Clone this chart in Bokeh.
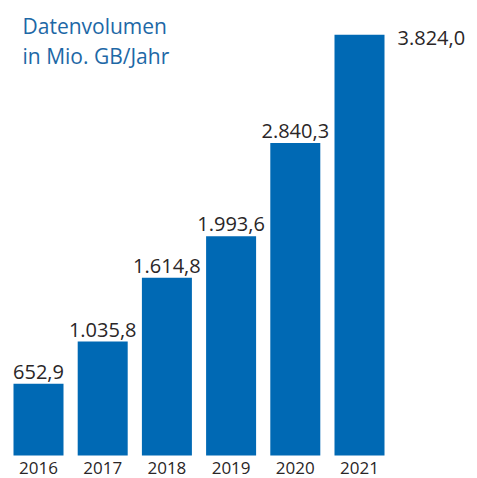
from bokeh.plotting import figure
from bokeh.models import ColumnDataSource, Range1d, Label
from bokeh.core.properties import value
from bokeh.embed import file_html
from bokeh.resources import INLINE

years = ["2016", "2017", "2018", "2019", "2020", "2021"]
volumes = [652.9, 1035.8, 1614.8, 1993.6, 2840.3, 3824.0]
title_lines = ["Datenvolumen", "in Mio. GB/Jahr"]


def de_fmt(v):
    s = f"{v:,.1f}"
    return s.replace(",", "X").replace(".", ",").replace("X", ".")


BAR = "#0069b4"
TXT = "#2a2627"
TITLE_C = "#1d68a6"
FONT = "Open Sans"

idx = list(range(len(years)))
labels = [de_fmt(v) for v in volumes]

W, H = 477, 478
px_per_unit_x = 64.2
x0_px = 38
px_per_val = 0.11
base_px = 455

p = figure(width=W, height=H, output_backend="svg", toolbar_location=None,
           x_range=Range1d(-x0_px / px_per_unit_x, (W - x0_px) / px_per_unit_x),
           y_range=Range1d(-(H - base_px) / px_per_val, base_px / px_per_val),
           min_border=0)
p.axis.visible = False
p.grid.visible = False
p.outline_line_color = None
p.background_fill_color = "white"
p.border_fill_color = "white"

src = ColumnDataSource(dict(x=idx, top=volumes, year=years, label=labels))
p.vbar(x="x", top="top", bottom=0, width=50 / px_per_unit_x, source=src,
       fill_color=BAR, line_color=None)

n = len(years)
# value labels above bars (all but the last)
src_in = ColumnDataSource(dict(x=idx[:-1], y=volumes[:-1], label=labels[:-1]))
p.text(x="x", y="y", text="label", source=src_in, text_align="center",
       text_baseline="bottom", y_offset=-5, text_font=value(FONT),
       text_font_size="20px", text_color=TXT)

# last label to the right of the tallest bar
src_last = ColumnDataSource(dict(x=idx[-1:], y=volumes[-1:], label=labels[-1:]))
p.text(x="x", y="y", text="label", source=src_last, text_align="left",
       text_baseline="top", x_offset=38, y_offset=-4, text_font=value(FONT),
       text_font_size="20px", text_color=TXT)

# year labels
src_y = ColumnDataSource(dict(x=idx, y=[0] * n, year=years))
p.text(x="x", y="y", text="year", source=src_y, text_align="center",
       text_baseline="middle", y_offset=12, text_font=value(FONT),
       text_font_size="17px", text_color=TXT)

# title
for i, t in enumerate(title_lines):
    p.add_layout(Label(x=22, y=H - 11 - 30 * i, x_units="screen", y_units="screen",
                       text=t, text_font=FONT, text_font_size="21px",
                       text_color=TITLE_C, text_baseline="top",
                       text_align="left"))

open("out.html", "w").write(file_html(p, INLINE))
